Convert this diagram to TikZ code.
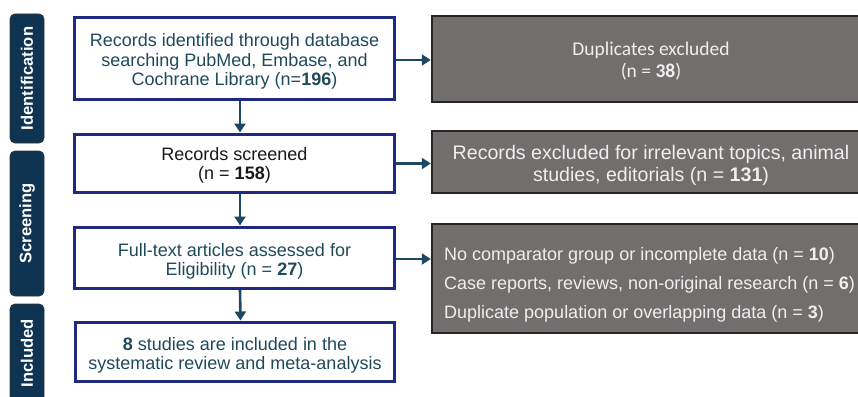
\documentclass[tikz,border=0pt]{standalone}
\usepackage{fontspec}
\setmainfont{Liberation Sans}
\newfontfamily\carl{Carlito}
\usetikzlibrary{arrows.meta,calc}

\definecolor{navyline}{HTML}{1E2A80}
\definecolor{tealtext}{HTML}{1F4A5C}
\definecolor{arrowcol}{HTML}{1B4963}
\definecolor{phasefill}{HTML}{0F3451}
\definecolor{greyfill}{HTML}{726E6D}
\definecolor{greytext}{HTML}{EFEFEF}

\tikzset{
  stagebox/.style={draw=navyline, line width=3pt, fill=white, inner sep=0pt},
  exclbox/.style={draw=black!85, line width=1.4pt, fill=greyfill, inner sep=0pt},
  stagetext/.style={align=center, text=tealtext, inner sep=0pt,
    font=\fontsize{18}{19.2}\selectfont},
  excltext/.style={align=center, text=greytext, inner sep=0pt,
    font=\fontsize{19.6}{22}\selectfont},
  phase/.style={draw=black!80, line width=0.8pt, fill=phasefill, rounded corners=5pt,
    text=white, font=\fontsize{16.6}{18}\selectfont\bfseries, rotate=90,
    inner sep=0pt},
  flow/.style={draw=arrowcol, line width=2.6pt,
    -{Triangle[length=9pt,width=11pt]}, shorten >=0.5pt},
}

\begin{document}
\begin{tikzpicture}[x=1pt,y=-1pt]
  \useasboundingbox (0,0) rectangle (858,396);
  \begin{scope}
    \clip (0,0) rectangle (858,396);

    % phase labels on the left margin
    \node[phase, minimum width=129pt, minimum height=34pt] (pid) at (27,78.5) {Identification};
    \node[phase, minimum width=145pt, minimum height=34pt] (psc) at (27,223.5) {Screening};
    \node[phase, minimum width=98pt, minimum height=34pt] (pin) at (27,353) {Included};

    % main flow boxes
    \node[stagebox, minimum width=320pt, minimum height=82pt] (ident) at (234.5,58.5) {};
    \node[stagebox, minimum width=320pt, minimum height=58pt] (scr) at (234.5,163.5) {};
    \node[stagebox, minimum width=320pt, minimum height=61pt] (full) at (234.5,258) {};
    \node[stagebox, minimum width=319pt, minimum height=59pt] (incl) at (235,352) {};

    % box texts, set slightly below the box centres
    \node[stagetext] (identtxt) at ([yshift=-3pt]ident.center)
      {Records identified through database\\searching PubMed, Embase, and\\Cochrane Library (n=\textbf{196})};
    \node[stagetext, text=black!90] (scrtxt) at ([yshift=-2pt]scr.center)
      {Records screened\\(n = \textbf{158})};
    \node[stagetext] (fulltxt) at ([yshift=-3pt]full.center)
      {Full-text articles assessed for\\Eligibility (n = \textbf{27})};
    \node[stagetext] (incltxt) at ([yshift=-3pt]incl.center)
      {\textbf{8} studies are included in the\\systematic review and meta-analysis};

    % exclusion boxes
    \node[exclbox, minimum width=438pt, minimum height=86pt] (dup) at (651,59) {};
    \node[exclbox, minimum width=438pt, minimum height=62pt] (irr) at (651,162) {};
    \node[exclbox, minimum width=438pt, minimum height=109pt] (rsn) at (651,278.5) {};

    \node[excltext, font=\carl\fontsize{19.5}{22}\selectfont] (duptxt) at ([yshift=-2.5pt]dup.center)
      {Duplicates excluded\\(n = \textbf{38})};
    \node[excltext] (irrtxt) at ([yshift=-3pt]irr.center)
      {Records excluded for irrelevant topics, animal\\studies, editorials (n = \textbf{131})};
    \node[anchor=west, align=left, text=greytext, inner sep=0pt,
      font=\fontsize{18}{29}\selectfont] (rsntxt) at (444,285)
      {No comparator group or incomplete data (n = \textbf{10})\\
       Case reports, reviews, non-original research (n = \textbf{6})\\
       Duplicate population or overlapping data (n = \textbf{3})};

    % connectors
    \draw[flow] ([xshift=5.5pt]ident.south) -- ([xshift=5.5pt]scr.north);
    \draw[flow] ([xshift=5.5pt]scr.south) -- ([xshift=5.5pt]full.north);
    \draw[flow] ([xshift=5.5pt]full.south) -- ([xshift=5.5pt]incl.north);
    \draw[flow] ([yshift=-1.5pt]ident.east) -- ([yshift=-1.5pt]ident.east -| dup.west);
    \draw[flow] (scr.east) -- (scr.east -| irr.west);
    \draw[flow] ([yshift=-1pt]full.east) -- ([yshift=-1pt]full.east -| rsn.west);
  \end{scope}
\end{tikzpicture}
\end{document}
